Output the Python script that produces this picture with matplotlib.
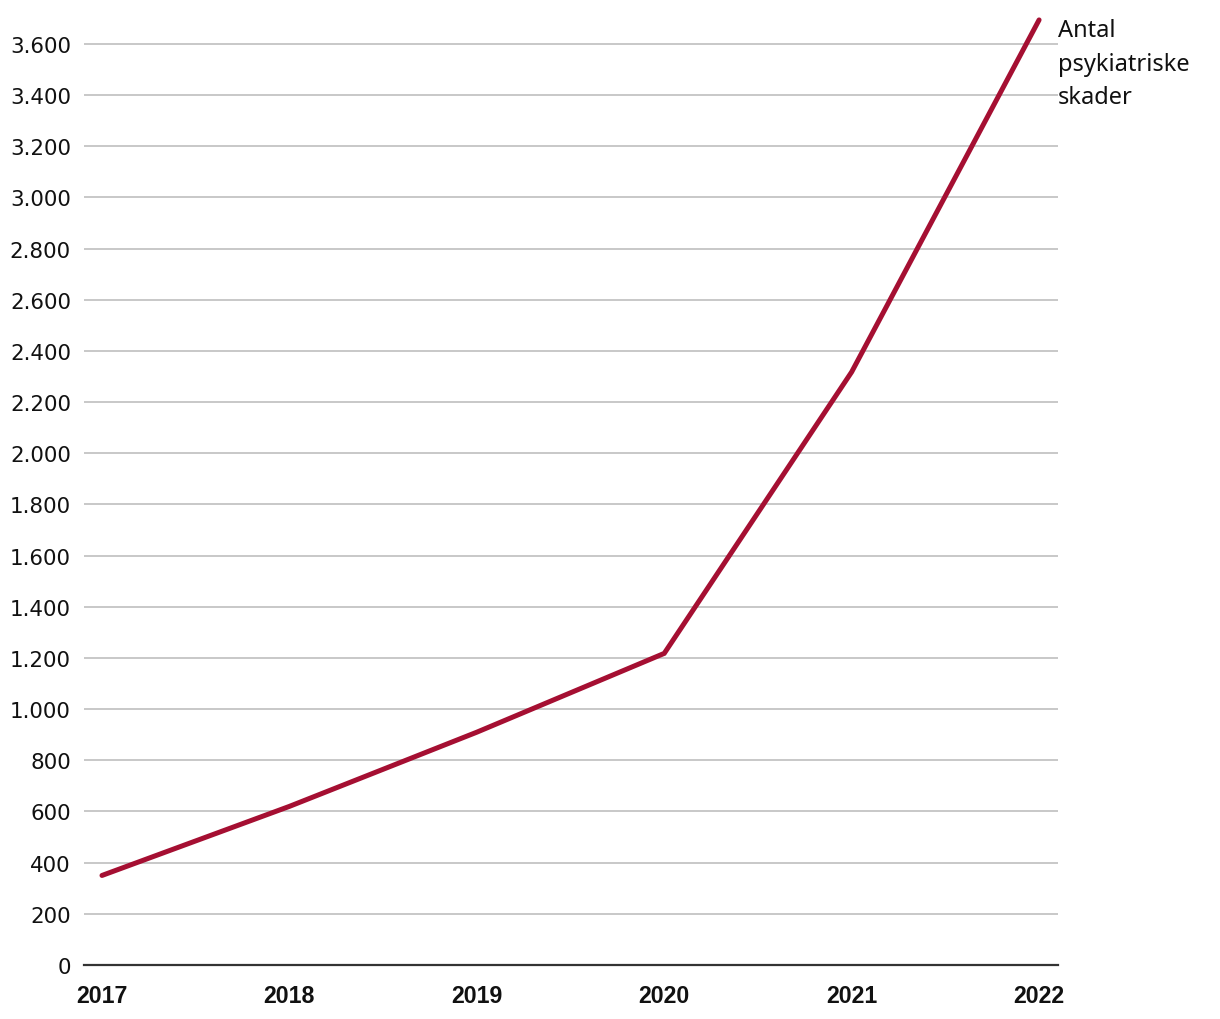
import matplotlib
matplotlib.use("Agg")
import matplotlib.pyplot as plt
from matplotlib import font_manager as fm

years = [2017, 2018, 2019, 2020, 2021, 2022]
values = [350, 620, 910, 1218, 2318, 3694]
y_ticks = list(range(0, 3601, 200))
y_tick_labels = [f"{v:,}".replace(",", ".") for v in y_ticks]
x_tick_labels = [str(y) for y in years]
series_label = "Antal\npsykiatriske\nskader"

plt.rcParams["font.family"] = ["DejaVu Sans"]


def find_font(name, bold):
    for f in fm.fontManager.ttflist:
        if f.name == name and f.style == "normal":
            w = f.weight if isinstance(f.weight, int) else (700 if "bold" in str(f.weight) else 400)
            if (w >= 600) == bold and "Narrow" not in f.fname and "Condensed" not in f.fname:
                return fm.FontProperties(fname=f.fname)
    return fm.FontProperties(family=name, weight="bold" if bold else "normal")


xfp = find_font("Liberation Sans", True)
xfp.set_size(16.7)
yfp = find_font("DejaVu Sans", False)
yfp.set_size(15.4)
lfp = find_font("Noto Sans", False)
lfp.set_size(17)

fig = plt.figure(figsize=(12.2, 10.2), dpi=100)
ax = fig.add_axes([84/1220, 1 - 966/1020, (1058-84)/1220, (966-19.4)/1020])

ax.set_xlim(2016.904, 2022.101)
ax.set_ylim(0, 3700)
ax.set_yticks(y_ticks)
ax.set_yticklabels(y_tick_labels, fontproperties=yfp, color="#111111")
ax.set_xticks(years)
ax.set_xticklabels(x_tick_labels, fontproperties=xfp, color="#111111")

ax.grid(axis="y", color="#bfbfbf", linewidth=1.2)
ax.set_axisbelow(True)
for s in ["top", "right", "left"]:
    ax.spines[s].set_visible(False)
ax.spines["bottom"].set_color("#333333")
ax.spines["bottom"].set_linewidth(1.6)
ax.spines["bottom"].set_zorder(3)

ax.tick_params(axis="both", length=0)
ax.tick_params(axis="y", pad=9.4)
ax.tick_params(axis="x", pad=13.5)

ax.plot(years, values, color="#a50f32", linewidth=3.6, solid_capstyle="round",
        solid_joinstyle="miter", clip_on=False, zorder=4)

fig.text(1058/1220, 1 - 19/1020, series_label, ha="left", va="top",
         fontproperties=lfp, linespacing=1.54, color="#111111")

fig.savefig("out.png", dpi=100)
